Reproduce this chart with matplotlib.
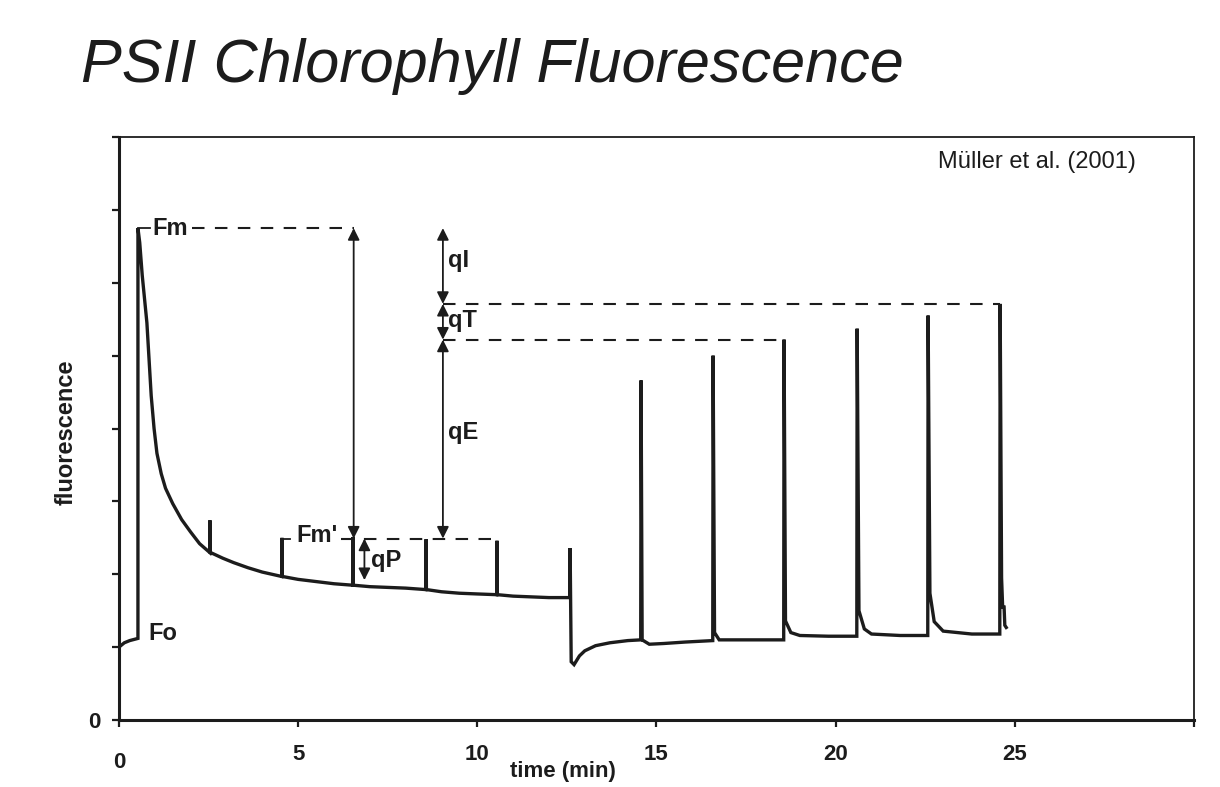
import matplotlib
matplotlib.use("Agg")
import matplotlib.pyplot as plt

plt.rcParams["font.family"] = ["Liberation Sans", "DejaVu Sans"]

INK = "#1c1c1c"

# fluorescence trace (time in min, arbitrary units)
trace_time = [
    0.0, 0.15, 0.3, 0.53, 0.53, 0.58, 0.65, 0.72, 0.78, 0.84, 0.9, 0.98,
    1.06, 1.18, 1.3, 1.5, 1.75, 2.0, 2.25, 2.53, 2.54, 2.55, 2.9, 3.2,
    3.6, 4.0, 4.54, 4.55, 4.56, 5.0, 5.5, 6.0, 6.52, 6.53, 6.54, 7.0,
    7.5, 8.0, 8.56, 8.57, 8.58, 9.0, 9.5, 10.0, 10.54, 10.55, 10.56, 11.0,
    11.5, 12.0, 12.58, 12.59, 12.62, 12.7, 12.85, 13.0, 13.3, 13.7, 14.2,
    14.56, 14.57, 14.6, 14.8, 15.2, 15.8, 16.57, 16.58, 16.62, 16.75, 17.5,
    18.55, 18.56, 18.6, 18.75, 19.0, 19.8, 20.59, 20.6, 20.65, 20.8, 21.0,
    21.8, 22.57, 22.58, 22.63, 22.75, 23.0, 23.8, 24.58, 24.59, 24.63,
    24.66, 24.7, 24.72, 24.76,
]
trace_fluor = [
    1.00, 1.06, 1.09, 1.12, 6.75, 6.55, 6.10, 5.75, 5.45, 4.95, 4.45, 4.00,
    3.66, 3.38, 3.18, 2.97, 2.75, 2.58, 2.42, 2.30, 2.74, 2.30, 2.22, 2.16,
    2.09, 2.03, 1.97, 2.50, 1.97, 1.93, 1.90, 1.87, 1.85, 2.51, 1.85, 1.83,
    1.82, 1.81, 1.79, 2.48, 1.79, 1.76, 1.74, 1.73, 1.72, 2.46, 1.72, 1.70,
    1.69, 1.68, 1.68, 2.36, 0.80, 0.76, 0.88, 0.95, 1.02, 1.06, 1.09,
    1.10, 4.66, 1.10, 1.04, 1.05, 1.07, 1.09, 5.00, 1.20, 1.10, 1.10,
    1.10, 5.22, 1.36, 1.20, 1.16, 1.15, 1.15, 5.37, 1.50, 1.25, 1.18,
    1.16, 1.16, 5.55, 1.74, 1.35, 1.22, 1.18, 1.18, 5.71, 1.95,
    1.55, 1.55, 1.30, 1.27,
]

# reference levels for the quenching annotations
fm_level = 6.75
fm_prime_level = 2.49
qt_level = 5.71
qe_level = 5.22
qp_bottom = 1.92

xticks = [0, 5, 10, 15, 20, 25, 30]
xtick_labels = ["", "5", "10", "15", "20", "25", ""]
yticks = [0, 1, 2, 3, 4, 5, 6, 7, 8]
ytick_labels = ["0", "", "", "", "", "", "", "", ""]


def double_arrow(ax, x, y0, y1):
    ax.annotate("", xy=(x, y1), xytext=(x, y0),
                arrowprops=dict(arrowstyle="<|-|>,head_length=0.5,head_width=0.25",
                                color=INK, lw=1.3, shrinkA=0, shrinkB=0,
                                mutation_scale=14))


fig = plt.figure(figsize=(12.2, 7.87), dpi=100)
ax = fig.add_axes([0.0975, 0.0851, 0.8812, 0.7408])

ax.plot(trace_time, trace_fluor, color=INK, lw=2.4, solid_joinstyle="miter")

dash = dict(color=INK, lw=1.5, linestyle=(0, (6, 5)))
# Fm bracket
ax.plot([0.53, 0.88], [fm_level, fm_level], color=INK, lw=1.3)
ax.plot([2.05, 6.55], [fm_level, fm_level], **dash)
# Fm' bracket
ax.plot([4.55, 4.78], [fm_prime_level, fm_prime_level], color=INK, lw=1.3)
ax.plot([6.2, 10.55], [fm_prime_level, fm_prime_level], **dash)
# qT / qE reference lines
ax.plot([9.04, 24.59], [qt_level, qt_level], **dash)
ax.plot([9.04, 18.56], [qe_level, qe_level], **dash)

double_arrow(ax, 6.55, fm_prime_level, fm_level)
double_arrow(ax, 6.85, qp_bottom, fm_prime_level)
double_arrow(ax, 9.04, qt_level, fm_level)
double_arrow(ax, 9.04, qe_level, qt_level)
double_arrow(ax, 9.04, fm_prime_level, qe_level)

lab = dict(fontsize=17, fontweight="bold", color=INK, va="center", ha="left")
ax.text(0.93, fm_level, "Fm", **lab)
ax.text(0.81, 1.19, "Fo", **lab)
ax.text(4.94, 2.53, "Fm'", **lab)
ax.text(7.03, 2.19, "qP", **lab)
ax.text(9.18, 6.30, "qI", **lab)
ax.text(9.18, 5.48, "qT", **lab)
ax.text(9.18, 3.95, "qE", **lab)

ax.text(0.946, 0.958, "Müller et al. (2001)", transform=ax.transAxes,
        ha="right", va="center", fontsize=17, color=INK)

ax.set_xlim(0, 30)
ax.set_ylim(0, 8)
ax.set_xticks(xticks)
ax.set_xticklabels(xtick_labels)
ax.set_yticks(yticks)
ax.set_yticklabels(ytick_labels)
ax.tick_params(axis="both", direction="out", length=5, width=1.6, color=INK,
               labelsize=16, labelcolor=INK)
ax.tick_params(axis="x", pad=12)
ax.tick_params(axis="y", pad=8)
for lbl in ax.get_xticklabels() + ax.get_yticklabels():
    lbl.set_fontweight("bold")
# the x "0" sits a little lower than the other tick labels
ax.text(0, -0.58, "0", ha="center", va="center", fontsize=16,
        fontweight="bold", color=INK)

for side in ["left", "bottom"]:
    ax.spines[side].set_linewidth(2.2)
for side in ["top", "right"]:
    ax.spines[side].set_linewidth(1.3)
for sp in ax.spines.values():
    sp.set_color(INK)

ax.set_ylabel("fluorescence", fontsize=17, fontweight="bold", color=INK)
ax.yaxis.set_label_coords(-0.038, 0.493)
ax.set_xlabel("time (min)", fontsize=16, fontweight="bold", color=INK)
ax.xaxis.set_label_coords(0.413, -0.07)

fig.text(0.066, 0.915, "PSII Chlorophyll Fluorescence", fontsize=44,
         fontstyle="italic", color=INK, ha="left", va="center")

fig.savefig("out.png", dpi=100)
